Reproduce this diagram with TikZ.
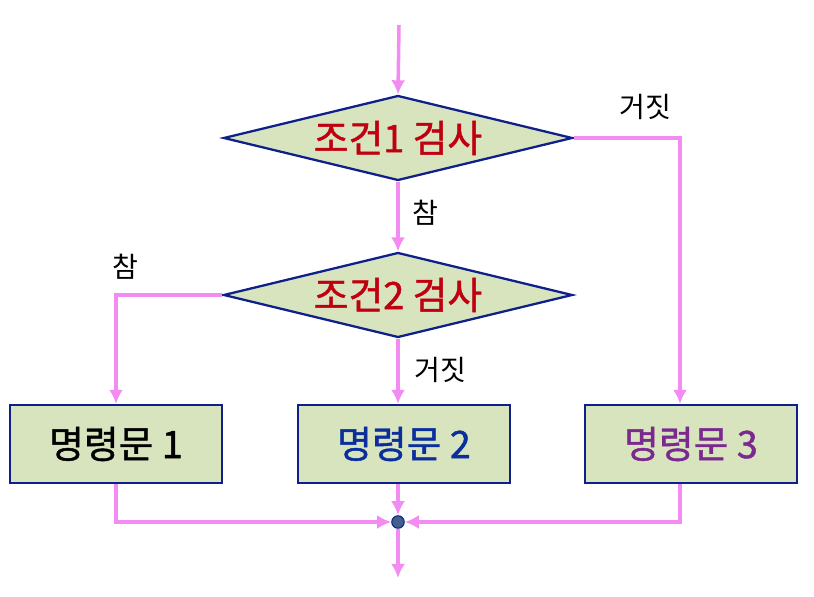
\documentclass[tikz,border=0pt]{standalone}
\usepackage{fontspec}
\setmainfont{Noto Sans CJK KR}
\newfontfamily\medfont{Noto Sans CJK KR}[FakeBold=1.2]
\usepackage{xcolor}
\usetikzlibrary{arrows.meta,shapes.geometric,calc}
\definecolor{flowpink}{HTML}{F28CF2}
\definecolor{boxfill}{HTML}{D8E4BE}
\definecolor{boxline}{HTML}{10208A}
\definecolor{condred}{HTML}{C00010}
\definecolor{stmtblue}{HTML}{0A2E9C}
\definecolor{stmtpurple}{HTML}{7A2A8E}
\definecolor{dotblue}{HTML}{41618A}
\tikzset{
  decision/.style={diamond,aspect=4.1,draw=boxline,fill=boxfill,line width=1.3pt,inner sep=0pt,
    minimum width=6.98cm,minimum height=1.7cm,text=condred,font=\fontsize{21.5}{24}\medfont},
  stmtbox/.style={rectangle,draw=boxline,fill=boxfill,line width=1.3pt,
    minimum width=4.25cm,minimum height=1.56cm,font=\fontsize{21.5}{24}\medfont},
  flow/.style={flowpink,line width=2pt,-{Latex[length=8pt,width=8pt]}},
  branch/.style={font=\fontsize{16}{20}\selectfont},
  joint/.style={circle,fill=dotblue,draw=boxline,line width=0.6pt,inner sep=0pt,minimum size=0.25cm}
}
\begin{document}
\begin{tikzpicture}[x=0.02cm,y=-0.02cm,>=Latex]
\useasboundingbox (0,0) rectangle (814,597);
\coordinate (start) at (399,25);
\node[decision] (cond1) at (398,138) {조건1 검사};
\node[decision] (cond2) at (398,295) {조건2 검사};
\node[stmtbox] (stmt1) at (116,444) {명령문 1};
\node[stmtbox,text=stmtblue] (stmt2) at (404,444) {명령문 2};
\node[stmtbox,text=stmtpurple] (stmt3) at (691,444) {명령문 3};
\node[joint] (merge) at (398,522) {};
\coordinate (finish) at (398,578);
% branches
\draw[flow] (start) -- (cond1.north);
\draw[flow] (cond1.south) -- (cond2.north);
\draw[flow] (cond1.east) -| ([xshift=-0.22cm]stmt3.north);
\draw[flow] (cond2.west) -| (stmt1.north);
\draw[flow] (cond2.south) -- (cond2.south |- stmt2.north);
% merge
\draw[flow] (stmt1.south) |- (merge.west);
\draw[flow] (merge.north |- stmt2.south) -- (merge.north);
\draw[flow] ([xshift=-0.22cm]stmt3.south) |- (merge.east);
\draw[flow] (merge.south) -- (finish);
% labels
\node[branch] (lbl1f) at (645,107) {거짓};
\node[branch] (lbl1t) at (425,213) {참};
\node[branch] (lbl2t) at (125,267) {참};
\node[branch] (lbl2f) at (440,370) {거짓};
\end{tikzpicture}
\end{document}
